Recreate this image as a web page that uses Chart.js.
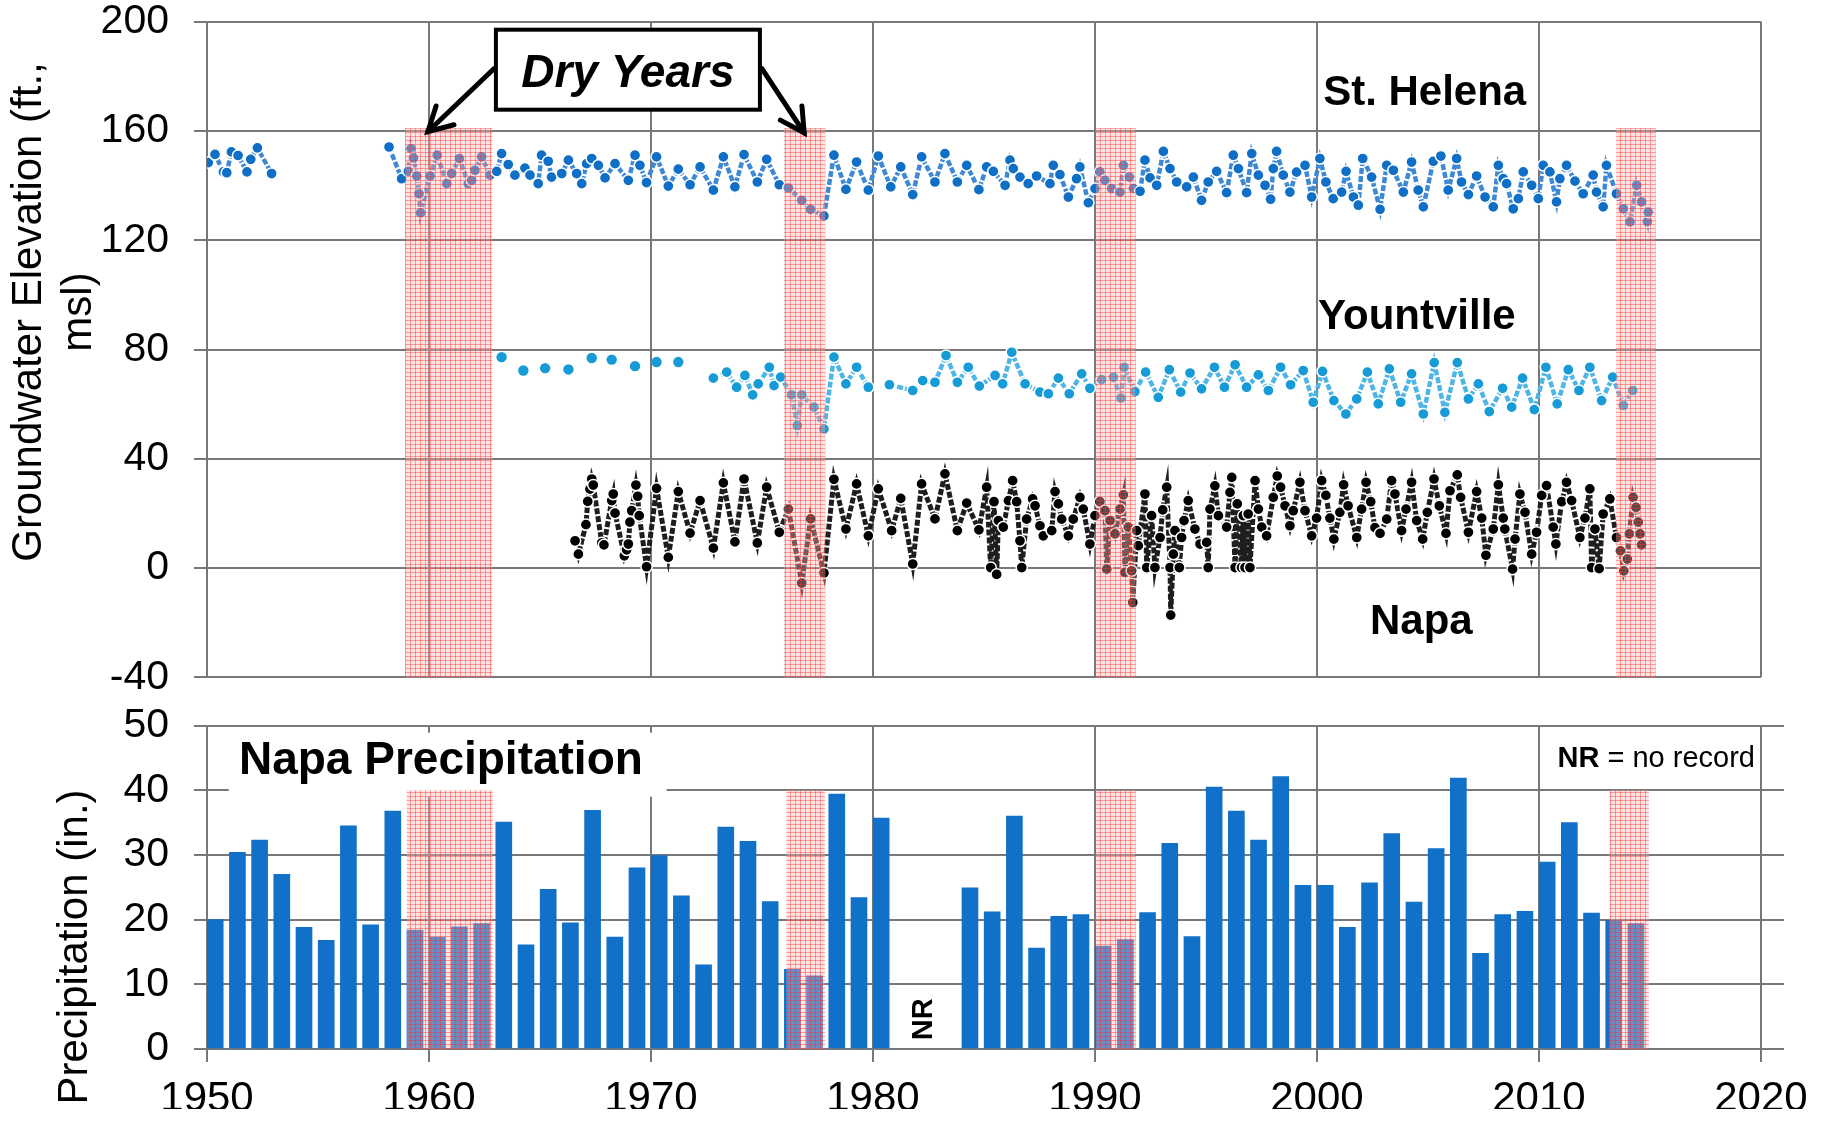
<!DOCTYPE html>
<html>
<head>
<meta charset="utf-8">
<script src="https://cdn.jsdelivr.net/npm/chart.js@4.4.1/dist/chart.umd.min.js"></script>
<style>
  html, body { margin: 0; padding: 0; background: #fff; }
  body { width: 1826px; height: 1121px; position: relative; overflow: hidden; }
  #gw { position: absolute; left: 0; top: -28px; }
  #precip { position: absolute; left: 0; top: 676px; }
</style>
</head>
<body>
<canvas id="gw" width="1826" height="755"></canvas>
<canvas id="precip" width="1826" height="445"></canvas>
<script>
// groundwater levels, [decimal year, ft msl]; null breaks the line
const stHelena = [
  [1950.06,148.4],[1950.36,151.4],[1950.74,145],[1950.89,144.7],[1951.1,152.3],[1951.4,151],[1951.8,145],[1951.97,149.6],[1952.27,153.8],[1952.91,144.4],[1955,null],
  [1958.2,154.1],[1958.77,142.5],[1959.07,145.2],[1959.19,153.5],[1959.3,150.1],[1959.45,143.5],[1959.55,137],[1959.62,130],[1960.05,143.5],[1960.37,151.1],[1960.8,140.7],[1961.02,144.4],[1961.37,149.9],[1961.77,140.7],[1961.92,141.9],[1962.07,145.6],[1962.37,150.5],[1962.75,143.8],[1963.05,145.2],[1963.27,151.7],[1963.57,147.7],[1963.87,143.8],[1964.32,146.4],[1964.55,143.8],[1964.92,140.7],[1965.07,151.1],[1965.37,148.9],[1965.52,143.1],[1965.98,144.4],[1966.28,149.3],[1966.65,144.4],[1966.88,140.7],[1967.1,148],[1967.33,149.9],[1967.63,147.4],[1967.93,142.8],[1968.38,148],[1968.98,141.9],[1969.28,151.1],[1969.5,147.4],[1969.8,141.1],
  [1970.25,150.5],[1970.78,139.8],[1971.23,146],[1971.76,140.3],[1972.21,146.8],[1972.81,138.3],[1973.26,150.5],[1973.78,139.5],[1974.19,151.3],[1974.79,141.3],[1975.21,149.6],[1975.78,140.3],[1976.19,139.1],[1976.79,134.6],[1977.19,131.3],[1977.79,128.9],[1978.24,151.1],[1978.78,138.6],[1979.26,148.6],[1979.79,138.3],
  [1980.24,150.8],[1980.8,139.5],[1981.25,146.8],[1981.79,136.7],[1982.19,150.5],[1982.79,141.3],[1983.24,151.7],[1983.8,141.3],[1984.22,147.4],[1984.77,138.5],[1985.12,146.8],[1985.42,145.2],[1985.95,140.1],[1986.17,149.3],[1986.32,146.2],[1986.62,143.1],[1986.99,140.7],[1987.37,143.5],[1987.97,140.7],[1988.12,147.4],[1988.42,144],[1988.8,135.8],[1989.17,142.5],[1989.32,146.8],[1989.7,133.7],
  [1990.0,138.9],[1990.22,145],[1990.45,141.9],[1990.75,138.9],[1991.13,137.6],[1991.28,147.4],[1991.55,143.1],[1991.73,138.9],[1992.03,137.9],[1992.25,149.3],[1992.48,142.8],[1992.78,140.1],[1993.08,152.5],[1993.38,146.2],[1993.68,141.3],[1994.13,139.5],[1994.43,143.1],[1994.8,134.6],[1995.1,141.3],[1995.48,145.2],[1995.93,137.4],[1996.23,151.1],[1996.46,146.2],[1996.83,137.4],[1997.06,151.7],[1997.36,143.8],[1997.66,140.1],[1997.91,135],[1998.03,146.2],[1998.18,152.5],[1998.48,143.8],[1998.78,137.6],[1999.08,144.9],[1999.46,147.4],[1999.76,135.8],
  [2000.13,149.9],[2000.4,141.3],[2000.73,135.2],[2001.11,137.6],[2001.31,145.2],[2001.64,135.8],[2001.86,132.8],[2002.06,149.9],[2002.46,143.1],[2002.84,131.3],[2003.14,147.4],[2003.44,145.6],[2003.89,137.6],[2004.26,148.6],[2004.56,138.3],[2004.79,132.2],[2005.24,148.9],[2005.58,150.8],[2005.91,138.3],[2006.29,149.9],[2006.51,141.3],[2006.82,136.7],[2007.19,143.5],[2007.57,135.8],[2007.94,132.2],[2008.17,147.4],[2008.39,142.5],[2008.54,140.7],[2008.84,131.5],[2009.07,135.2],[2009.29,145],[2009.67,140.1],[2009.97,135.2],
  [2010.19,147.4],[2010.49,145],[2010.79,134],[2010.94,142.5],[2011.24,147.4],[2011.62,141.6],[2011.99,137],[2012.44,143.8],[2012.59,137.6],[2012.89,132.2],[2013.04,147.4],[2013.49,137],[2013.8,131.5],[2014.1,126.7],[2014.4,140.1],[2014.62,134],[2014.88,126.8],[2014.92,130.3]
];
const yountvilleEarly = [
  [1963.27,77.2],[1964.25,72.3],[1965.23,73.2],[1966.28,72.7],[1967.33,76.9],[1968.23,76.3],[1969.28,73.9],[1970.25,75.4],[1971.23,75.4]
];
const yountville = [
  [1972.81,69.5],[1973.41,71.7],[1973.86,66.2],[1974.23,70.5],[1974.58,63.4],[1974.83,67.4],[1975.33,73.5],[1975.54,66.8],[1975.84,69.9],[1976.33,63.4],[1976.59,52.2],[1976.79,63.4],[1977.34,58.9],[1977.79,50.9],[1978.24,77.2],[1978.78,67.4],[1979.26,73.5],[1979.79,66.2],[1980.2,null],
  [1980.74,67.1],[1981.79,65],[1982.24,68.6],[1982.79,68],[1983.29,77.8],[1983.8,68],[1984.29,73.5],[1984.79,66.6],[1985.5,70.5],[1985.84,67.4],[1986.25,79],[1986.85,67.4],[1987.52,64.4],[1987.9,63.8],[1988.35,69.5],[1988.84,63.8],[1989.4,71.1],[1989.77,65.8],
  [1990.3,69],[1990.83,69.8],[1991.17,62.2],[1991.31,73.5],[1991.8,64.6],[1992.28,71.7],[1992.85,62.5],[1993.35,72.6],[1993.86,64.4],[1994.28,71.4],[1994.8,65.6],[1995.38,73.5],[1995.83,66.2],[1996.31,74.4],[1996.83,66.2],[1997.36,70.7],[1997.81,65],[1998.36,73.5],[1998.81,67.1],[1999.38,72.3],[1999.83,60.7],
  [2000.25,72],[2000.76,61.3],[2001.3,56.4],[2001.79,61.9],[2002.27,71.7],[2002.76,60.1],[2003.26,72.9],[2003.77,60.7],[2004.26,71.1],[2004.79,56.4],[2005.28,75.2],[2005.76,57],[2006.32,75.2],[2006.82,61.9],[2007.27,67.4],[2007.76,57.3],[2008.36,65.8],[2008.77,58.9],[2009.26,69.5],[2009.79,58],
  [2010.31,73.5],[2010.82,60.1],[2011.32,72.6],[2011.8,65],[2012.29,73.5],[2012.82,61.3],[2013.32,69.9],[2013.8,59.5],[2014.22,65]
];
const napa = [
  [1966.58,10],[1966.73,5.1],[1967.07,15.9],[1967.15,24.4],[1967.25,28.9],[1967.33,32.6],[1967.4,30.4],[1967.78,9.2],[1967.88,8.5],[1968.23,24.7],[1968.3,27.1],[1968.38,20.1],[1968.8,4.5],[1968.9,6.7],[1968.98,8.8],[1969.05,16.8],[1969.13,21],[1969.32,30.4],[1969.4,26.3],[1969.47,19.2],[1969.8,0.5],
  [1970.25,29.2],[1970.78,3.9],[1971.23,28],[1971.76,12.8],[1972.21,24.7],[1972.81,7.3],[1973.26,31.2],[1973.78,9.6],[1974.19,32.6],[1974.79,9.2],[1975.21,29.6],[1975.78,13.1],[1976.19,21.6],[1976.79,-5.5],[1977.19,18],[1977.79,-1.8],[1978.24,32.5],[1978.78,14.3],[1979.26,30.8],[1979.79,11.8],
  [1980.24,29],[1980.84,13.7],[1981.25,25.5],[1981.79,1.5],[1982.19,30.8],[1982.79,18],[1983.24,34.5],[1983.8,13.7],[1984.22,23.8],[1984.77,14],[1985.12,29.6],[1985.3,0.2],[1985.45,24.3],[1985.57,-2.3],[1985.65,17.4],[1985.87,15],[1986.1,24.7],[1986.29,32],[1986.47,24.3],[1986.62,10],[1986.7,0.2],[1986.92,17.9],[1987.19,25.3],[1987.3,22.8],[1987.52,15.5],[1987.67,11.8],[1988.05,13.7],[1988.2,28],[1988.35,23.5],[1988.5,17.9],[1988.8,11.8],[1989.02,17.9],[1989.32,25.9],[1989.47,21.6],[1989.77,8.8],
  [1990.0,19.2],[1990.22,24.3],[1990.45,21],[1990.53,-0.4],[1990.68,17.4],[1990.9,12.5],[1991.13,21.6],[1991.28,26.8],[1991.35,-1.6],[1991.5,15],[1991.65,-1],[1991.7,-12.6],[1991.88,13.7],[1991.95,8.2],[1992.25,27.1],[1992.33,0.2],[1992.55,19.2],[1992.7,0.2],[1992.93,11.2],[1993.05,21.3],[1993.23,29.6],[1993.38,0.2],[1993.41,-17.2],[1993.53,5.1],[1993.6,13.7],[1993.8,0.2],[1993.9,11.2],[1994.01,17.4],[1994.2,24.7],[1994.5,14.3],[1994.73,8.8],[1995.03,9.4],[1995.1,0.2],[1995.18,21.6],[1995.4,30.1],[1995.56,19.2],[1995.93,15],[1996.08,27.7],[1996.16,33.2],[1996.31,0.2],[1996.41,23.5],[1996.6,0.2],[1996.68,19.2],[1996.76,0.2],[1996.9,19.8],[1996.98,0.2],[1997.21,32],[1997.36,21.6],[1997.51,15],[1997.73,11.8],[1998.03,25.9],[1998.21,33.7],[1998.36,29.6],[1998.56,22.8],[1998.78,15.5],[1998.93,21],[1999.23,31.4],[1999.46,21],[1999.76,11.8],[1999.98,18.3],
  [2000.21,32],[2000.4,26.6],[2000.58,18.3],[2000.76,10.6],[2001.03,20.4],[2001.2,30.5],[2001.4,22.8],[2001.79,11.2],[2002.01,21.6],[2002.21,31.4],[2002.42,24.3],[2002.61,14.8],[2002.84,12.7],[2003.14,17.9],[2003.36,32],[2003.51,27.1],[2003.81,13.7],[2004.01,21.6],[2004.26,31.4],[2004.49,17.4],[2004.76,10.6],[2004.97,20.4],[2005.27,32.6],[2005.51,22.8],[2005.81,12.7],[2005.99,28.3],[2006.32,34.1],[2006.47,25.9],[2006.82,13.1],[2007.19,28],[2007.42,18.3],[2007.61,4.7],[2007.94,14.3],[2008.17,30.5],[2008.39,18.3],[2008.46,14.3],[2008.81,-0.4],[2008.92,10.6],[2009.14,27.1],[2009.37,20.4],[2009.67,5.1],[2009.89,13.1],
  [2010.12,26.6],[2010.34,30.2],[2010.64,15],[2010.76,8.8],[2011.02,24.3],[2011.24,31.4],[2011.47,24.7],[2011.84,11.2],[2012.07,18.3],[2012.29,29],[2012.37,0.2],[2012.52,14.3],[2012.71,-0.2],[2012.89,19.8],[2013.19,25.3],[2013.49,11.2],[2013.67,6.3],[2013.82,-1],[2013.98,3.3],[2014.07,12.5],[2014.24,25.9],[2014.37,22.2],[2014.47,16.8],[2014.55,12.5],[2014.62,8.5]
];

// annual precipitation, Napa (1981-1983 no record)
const precipYears = [
  1950,1951,1952,1953,1954,1955,1956,1957,1958,1959,1960,1961,1962,1963,1964,1965,1966,1967,1968,1969,
  1970,1971,1972,1973,1974,1975,1976,1977,1978,1979,1980,
  1984,1985,1986,1987,1988,1989,1990,1991,1992,1993,1994,1995,1996,1997,1998,1999,
  2000,2001,2002,2003,2004,2005,2006,2007,2008,2009,2010,2011,2012,2013,2014
];
const precipInches = [
  20.0,30.4,32.3,27.0,18.8,16.8,34.5,19.2,36.8,18.4,17.3,18.9,19.4,35.1,16.1,24.7,19.5,36.9,17.3,28.0,
  29.9,23.7,13.0,34.3,32.1,22.8,12.3,11.3,39.4,23.4,35.7,
  24.9,21.2,36.0,15.6,20.5,20.8,15.9,16.9,21.1,31.8,17.4,40.5,36.8,32.3,42.1,25.3,
  25.3,18.8,25.7,33.3,22.7,31.0,41.9,14.8,20.8,21.3,28.9,35.0,21.0,19.9,19.4
];

// dry-year periods (start, end year) as shaded on each panel
const dryYearsGw = [[1958.92,1962.85],[1975.99,1977.85],[1990.04,1991.83],[2013.47,2015.25]];
const dryYearsPrecip = [[1959.0,1962.87],[1976.1,1977.83],[1990.05,1991.83],[2013.18,2014.95]];
const gwTicks = [-40, 200];
const precipTicks = [0, 50];

const FONT = '"Liberation Sans", Arial, sans-serif';
const GRID = '#787878';

const toXY = (arr) => arr.map(p => ({ x: p[0], y: p[1] }));

// red hatch used for the dry-year bands
const hatch = document.createElement('canvas');
hatch.width = 5; hatch.height = 4;
(() => {
  const g = hatch.getContext('2d');
  g.fillStyle = 'rgba(255,185,185,0.38)';
  g.fillRect(0, 0, 5, 4);
  g.fillStyle = 'rgba(240,50,50,0.42)';
  g.fillRect(0, 0, 1, 4);
  g.fillRect(0, 0, 5, 1);
})();

function bandsPlugin(bands, hi, lo) {
  return {
    id: 'bands',
    afterDatasetsDraw(chart) {
      const { ctx, scales: { x, y } } = chart;
      ctx.save();
      ctx.fillStyle = ctx.createPattern(hatch, 'repeat');
      bands.forEach(([a, b]) => {
        const x0 = x.getPixelForValue(a), x1 = x.getPixelForValue(b);
        const y0 = y.getPixelForValue(hi), y1 = y.getPixelForValue(lo);
        ctx.fillRect(x0, y0, x1 - x0, y1 - y0);
      });
      ctx.restore();
    }
  };
}

function arrow(ctx, x0, y0, x1, y1) {
  ctx.beginPath(); ctx.moveTo(x0, y0); ctx.lineTo(x1, y1); ctx.stroke();
  const a = Math.atan2(y1 - y0, x1 - x0), L = 27, w = 0.5;
  ctx.beginPath();
  ctx.moveTo(x1 - L * Math.cos(a - w), y1 - L * Math.sin(a - w));
  ctx.lineTo(x1, y1);
  ctx.lineTo(x1 - L * Math.cos(a + w), y1 - L * Math.sin(a + w));
  ctx.stroke();
}

function rotText(ctx, txt, x, y) {
  ctx.save(); ctx.translate(x, y); ctx.rotate(-Math.PI / 2);
  ctx.fillText(txt, 0, 0); ctx.restore();
}

const gwNotes = {
  id: 'gwNotes',
  afterDraw(chart) {
    const { ctx, scales: { x, y } } = chart;
    ctx.save();
    ctx.fillStyle = '#000';
    ctx.textAlign = 'center';
    ctx.textBaseline = 'alphabetic';
    ctx.font = 'bold 42px ' + FONT;
    ctx.fillText('St. Helena', x.getPixelForValue(2004.85), y.getPixelForValue(169.6));
    ctx.fillText('Yountville', x.getPixelForValue(2004.5), y.getPixelForValue(87.5));
    ctx.fillText('Napa', x.getPixelForValue(2004.7), y.getPixelForValue(-24.3));

    // Dry Years callout
    const cx = x.getPixelForValue(1968.96), cy = y.getPixelForValue(182.4);
    ctx.fillStyle = '#fff';
    ctx.fillRect(cx - 132, cy - 40, 264, 80);
    ctx.lineWidth = 4; ctx.strokeStyle = '#000';
    ctx.strokeRect(cx - 132, cy - 40, 264, 80);
    ctx.fillStyle = '#000';
    ctx.font = 'italic bold 46px ' + FONT;
    ctx.fillText('Dry Years', cx, cy + 17);
    ctx.lineWidth = 5; ctx.lineCap = 'round'; ctx.lineJoin = 'miter';
    arrow(ctx, cx - 134, cy - 1, x.getPixelForValue(1959.95), y.getPixelForValue(159.7));
    arrow(ctx, cx + 134, cy - 1, x.getPixelForValue(1976.9), y.getPixelForValue(159.3));

    // axis title, centred on page y 312 (canvas sits 28px above the page)
    ctx.font = '42px ' + FONT;
    rotText(ctx, 'Groundwater Elevation (ft.,', 41, 340);
    rotText(ctx, 'msl)', 91, 340);
    ctx.restore();
  }
};

const precipNotes = {
  id: 'precipNotes',
  beforeDatasetsDraw(chart) {
    const { ctx, scales: { x, y } } = chart;
    ctx.save();
    ctx.fillStyle = '#fff';
    const x0 = x.getPixelForValue(1950.98), x1 = x.getPixelForValue(1970.7);
    ctx.fillRect(x0, y.getPixelForValue(48.9), x1 - x0, y.getPixelForValue(39) - y.getPixelForValue(48.9));
    ctx.restore();
  },
  afterDraw(chart) {
    const { ctx, scales: { x, y } } = chart;
    ctx.save();
    ctx.fillStyle = '#000';
    ctx.textBaseline = 'alphabetic';
    ctx.textAlign = 'left';
    ctx.font = 'bold 46px ' + FONT;
    ctx.fillText('Napa Precipitation', x.getPixelForValue(1951.44), y.getPixelForValue(42.5));

    ctx.textAlign = 'right';
    ctx.font = '29px ' + FONT;
    const rx = x.getPixelForValue(2019.73), by = y.getPixelForValue(43.6);
    const rest = ' = no record';
    ctx.fillText(rest, rx, by);
    const w = ctx.measureText(rest).width;
    ctx.font = 'bold 29px ' + FONT;
    ctx.fillText('NR', rx - w, by);

    ctx.textAlign = 'center';
    ctx.textBaseline = 'middle';
    ctx.font = 'bold 29px ' + FONT;
    rotText(ctx, 'NR', x.getPixelForValue(1982.3), y.getPixelForValue(4.6));

    // axis title, centred on page y 947 (canvas starts at page y 676)
    ctx.textBaseline = 'alphabetic';
    ctx.font = '42px ' + FONT;
    rotText(ctx, 'Precipitation (in.)', 87, 271);
    ctx.restore();
  }
};

const pointStyle = (fill) => ({
  pointRadius: 5.6, pointHoverRadius: 5.6,
  pointBackgroundColor: fill, pointBorderColor: '#fff', pointBorderWidth: 1.5
});

new Chart(document.getElementById('gw'), {
  type: 'scatter',
  data: {
    datasets: [
      Object.assign({ label: 'Napa', data: toXY(napa), showLine: true, spanGaps: false,
        borderColor: '#1e1e1e', borderWidth: 5, borderDash: [6, 2] }, pointStyle('#000')),
      { label: 'Yountville (early)', data: toXY(yountvilleEarly), showLine: false,
        pointRadius: 5.2, pointBackgroundColor: '#169bd6', pointBorderWidth: 0 },
      Object.assign({ label: 'Yountville', data: toXY(yountville), showLine: true, spanGaps: false,
        borderColor: '#4fb5e4', borderWidth: 4.5, borderDash: [6, 2] }, pointStyle('#169bd6')),
      Object.assign({ label: 'St. Helena', data: toXY(stHelena), showLine: true, spanGaps: false,
        borderColor: '#3f89d4', borderWidth: 4.5, borderDash: [6, 2] }, pointStyle('#0f6fc6'))
    ]
  },
  options: {
    responsive: false, animation: false, devicePixelRatio: 1,
    layout: { padding: { top: 12, right: 65, bottom: 18, left: 0 } },
    plugins: { legend: { display: false }, tooltip: { enabled: false } },
    scales: {
      x: {
        type: 'linear', min: 1950, max: 2020,
        ticks: { display: false, stepSize: 10 },
        grid: { color: GRID, lineWidth: 2, drawTicks: false },
        border: { display: false },
        afterFit(s) { s.height = 0; }
      },
      y: {
        min: gwTicks[0], max: gwTicks[1],
        ticks: { stepSize: 40, color: '#000', padding: 25, font: { size: 41, family: FONT } },
        grid: { color: GRID, lineWidth: 2, tickLength: 13 },
        border: { display: false },
        afterFit(s) { s.width = 207; }
      }
    }
  },
  plugins: [bandsPlugin(dryYearsGw, 161, -40), gwNotes]
});

new Chart(document.getElementById('precip'), {
  type: 'bar',
  data: {
    datasets: [{
      label: 'Napa Precipitation',
      data: precipYears.map((yr, i) => ({ x: yr + 0.37, y: precipInches[i] })),
      backgroundColor: '#1170c8',
      barThickness: 16,
      grouped: false
    }]
  },
  options: {
    responsive: false, animation: false, devicePixelRatio: 1,
    layout: { padding: { top: 12, right: 42, bottom: 12, left: 0 } },
    plugins: { legend: { display: false }, tooltip: { enabled: false } },
    scales: {
      x: {
        type: 'linear', min: 1950, max: 2021.04, offset: false,
        ticks: { stepSize: 10, includeBounds: false, color: '#000', padding: 12,
          font: { size: 42, family: FONT }, callback: v => String(v) },
        grid: { color: GRID, lineWidth: 2, tickLength: 13, offset: false },
        border: { display: false },
        afterFit(s) { s.height = 60; }
      },
      y: {
        min: precipTicks[0], max: precipTicks[1],
        ticks: { stepSize: 10, color: '#000', padding: 25, font: { size: 41, family: FONT } },
        grid: { color: GRID, lineWidth: 2, tickLength: 13 },
        border: { display: false },
        afterFit(s) { s.width = 207; }
      }
    }
  },
  plugins: [bandsPlugin(dryYearsPrecip, 40, 0), precipNotes]
});
</script>
</body>
</html>
